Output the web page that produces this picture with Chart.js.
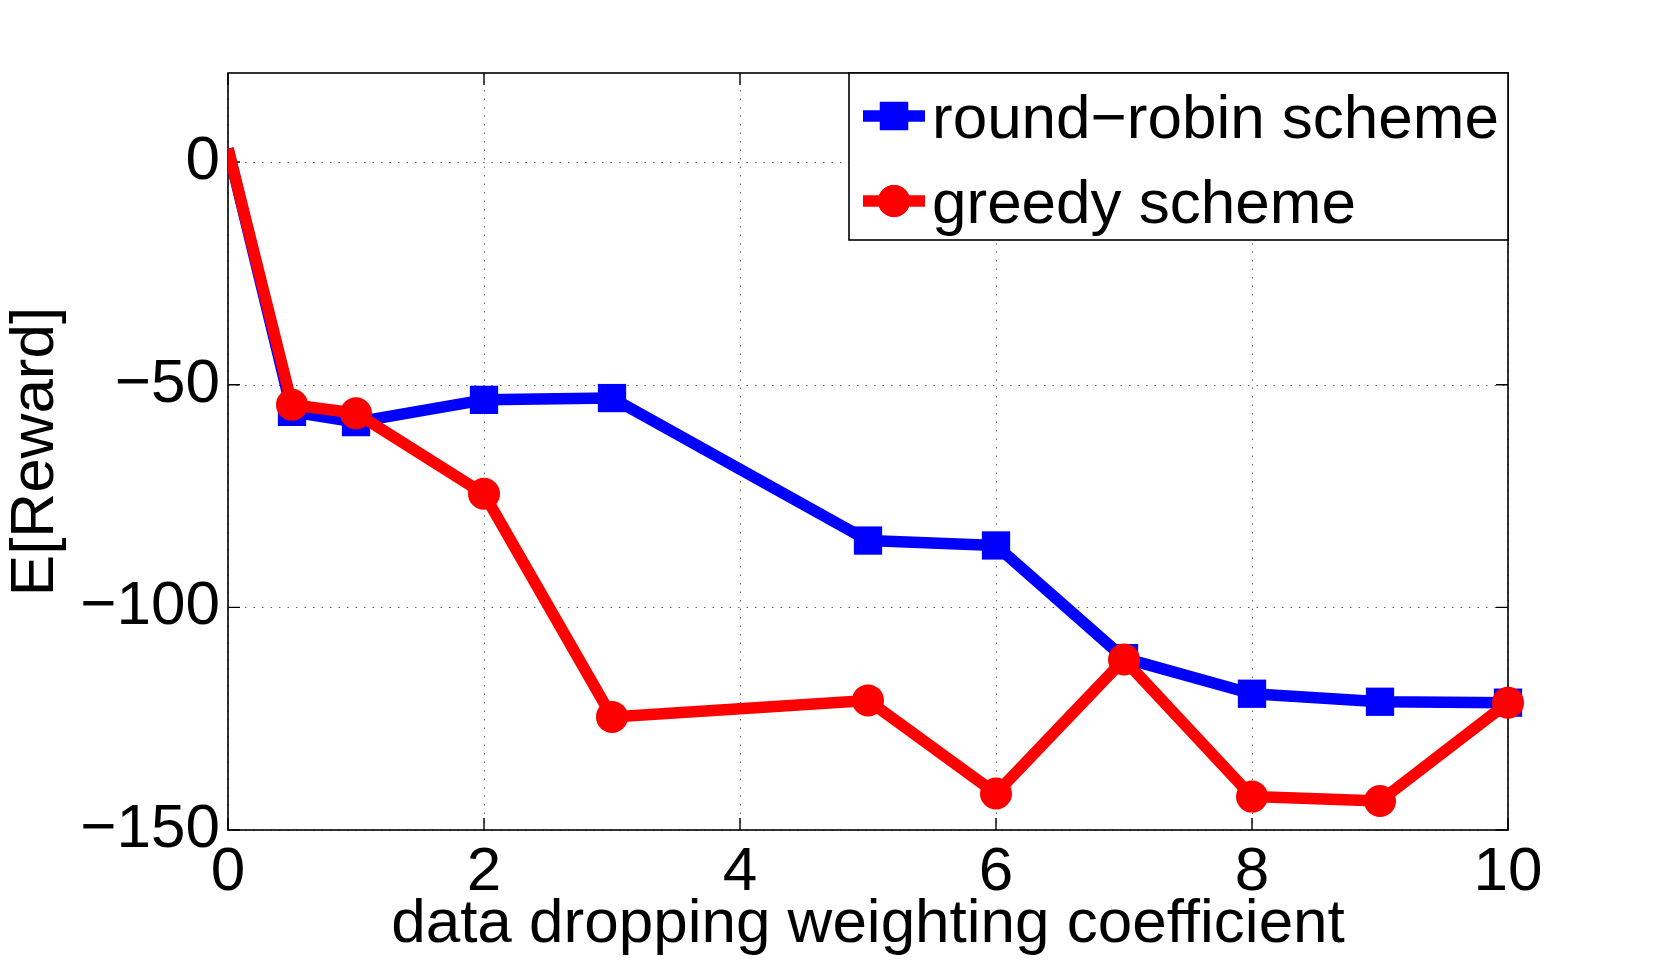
<!DOCTYPE html>
<html>
<head>
<meta charset="utf-8">
<script src="https://cdn.jsdelivr.net/npm/chart.js@4.4.1/dist/chart.umd.min.js"></script>
<style>
  html, body { margin: 0; padding: 0; background: #fff; }
  #wrap { width: 1667px; height: 965px; }
</style>
</head>
<body>
<div id="wrap"><canvas id="myChart" width="1667" height="965"></canvas></div>
<script>
// values
const xValues = [0, 0.5, 1, 2, 3, 5, 6, 7, 8, 9, 10];
const roundRobin = [3, -56.1, -58.4, -53.4, -53.0, -85.0, -86.1, -111.4, -119.4, -121.2, -121.4];
const greedy = [3, -54.5, -56.4, -74.5, -124.6, -120.9, -141.8, -111.7, -142.5, -143.5, -121.4];
const xTicks = [0, 2, 4, 6, 8, 10];
const yTicks = [-150, -100, -50, 0];
const seriesNames = ['round\u2212robin scheme', 'greedy scheme'];

const FONT = '"Liberation Sans", Arial, Helvetica, sans-serif';
const BLUE = '#0000ff';
const RED = '#ff0000';
const LW = 11.5;

const toPoints = (ys) => xValues.map((x, i) => ({x: x, y: ys[i]}));
// first point (x = 0) has no marker in the original
const radii = (r) => xValues.map((x, i) => i === 0 ? 0 : r);

// matlab style box, inward ticks, dotted grid, boxed legend
const matlabAxes = {
    id: 'matlabAxes',
    beforeDatasetsDraw(chart) {
        const ctx = chart.ctx;
        const a = chart.chartArea;
        const xs = chart.scales.x, ys = chart.scales.y;
        ctx.save();
        // grid
        ctx.strokeStyle = '#666';
        ctx.lineWidth = 1;
        ctx.setLineDash([1.5, 7]);
        xTicks.forEach(v => {
            const px = Math.round(xs.getPixelForValue(v)) + 0.5;
            ctx.beginPath(); ctx.moveTo(px, a.top); ctx.lineTo(px, a.bottom); ctx.stroke();
        });
        yTicks.forEach(v => {
            const py = Math.round(ys.getPixelForValue(v)) + 0.5;
            ctx.beginPath(); ctx.moveTo(a.left, py); ctx.lineTo(a.right, py); ctx.stroke();
        });
        ctx.setLineDash([]);
        // box
        ctx.strokeStyle = '#000';
        ctx.lineWidth = 1.6;
        ctx.strokeRect(a.left, a.top, a.right - a.left, a.bottom - a.top);
        // inward ticks
        const tl = 12;
        ctx.lineWidth = 1.4;
        xTicks.forEach(v => {
            const px = xs.getPixelForValue(v);
            ctx.beginPath();
            ctx.moveTo(px, a.bottom); ctx.lineTo(px, a.bottom - tl);
            ctx.moveTo(px, a.top); ctx.lineTo(px, a.top + tl);
            ctx.stroke();
        });
        yTicks.forEach(v => {
            const py = ys.getPixelForValue(v);
            ctx.beginPath();
            ctx.moveTo(a.left, py); ctx.lineTo(a.left + tl, py);
            ctx.moveTo(a.right, py); ctx.lineTo(a.right - tl, py);
            ctx.stroke();
        });
        ctx.restore();
    },
    afterDraw(chart) {
        const ctx = chart.ctx;
        const a = chart.chartArea;
        const bx = 849, by = a.top, bw = a.right - 849, bh = 167;
        ctx.save();
        ctx.fillStyle = '#fff';
        ctx.fillRect(bx, by, bw, bh);
        ctx.strokeStyle = '#000';
        ctx.lineWidth = 1.6;
        ctx.strokeRect(bx, by, bw, bh);
        const rows = [
            {y: 116, color: BLUE, style: 'rect', r: 20, text: seriesNames[0]},
            {y: 201, color: RED, style: 'circle', r: 16, text: seriesNames[1]}
        ];
        rows.forEach(row => {
            ctx.strokeStyle = row.color;
            ctx.lineWidth = LW;
            ctx.beginPath(); ctx.moveTo(863, row.y); ctx.lineTo(925, row.y); ctx.stroke();
            ctx.fillStyle = row.color;
            Chart.helpers.drawPoint(ctx, {pointStyle: row.style, radius: row.r, borderWidth: 0}, 894, row.y);
            ctx.fill();
            ctx.fillStyle = '#000';
            ctx.font = '62px ' + FONT;
            ctx.textAlign = 'left';
            ctx.textBaseline = 'alphabetic';
            ctx.fillText(row.text, 932, row.y + 22);
        });
        ctx.restore();
    }
};

const fmt = (v) => v < 0 ? '\u2212' + Math.abs(v) : String(v);

var ctx = document.getElementById('myChart').getContext('2d');
new Chart(ctx, {
    type: 'line',
    data: {
        datasets: [
            {
                label: seriesNames[1],
                data: toPoints(greedy),
                borderColor: RED,
                backgroundColor: RED,
                borderWidth: LW,
                pointStyle: 'circle',
                pointRadius: radii(16),
                pointBorderWidth: 0,
                pointBackgroundColor: RED,
                borderJoinStyle: 'round',
                tension: 0,
                order: 0,
                clip: {left: 0, top: 30, right: 30, bottom: 30}
            },
            {
                label: seriesNames[0],
                data: toPoints(roundRobin),
                borderColor: BLUE,
                backgroundColor: BLUE,
                borderWidth: LW,
                pointStyle: 'rect',
                pointRadius: radii(20),
                pointBorderWidth: 0,
                pointBackgroundColor: BLUE,
                borderJoinStyle: 'round',
                tension: 0,
                order: 1,
                clip: {left: 0, top: 30, right: 30, bottom: 30}
            }
        ]
    },
    options: {
        responsive: false,
        animation: false,
        devicePixelRatio: 1,
        layout: { padding: {left: 0, right: 159, top: 73, bottom: 0} },
        plugins: {
            legend: { display: false },
            tooltip: { enabled: false }
        },
        scales: {
            x: {
                type: 'linear',
                min: 0,
                max: 10,
                afterBuildTicks: (s) => { s.ticks = xTicks.map(v => ({value: v})); },
                afterFit: (s) => { s.height = 135; },
                grid: { display: false, drawTicks: false },
                border: { display: false },
                ticks: {
                    padding: 6,
                    color: '#000',
                    maxRotation: 0,
                    autoSkip: false,
                    font: { family: FONT, size: 62, lineHeight: 1.2 },
                    callback: fmt
                },
                title: {
                    display: true,
                    text: 'data dropping weighting coefficient',
                    color: '#000',
                    font: { family: FONT, size: 62, lineHeight: 1.2 },
                    padding: {top: 0, bottom: 3}
                }
            },
            y: {
                type: 'linear',
                min: -150,
                max: 20,
                afterBuildTicks: (s) => { s.ticks = yTicks.map(v => ({value: v})); },
                afterFit: (s) => { s.width = 228; },
                grid: { display: false, drawTicks: false },
                border: { display: false },
                ticks: {
                    padding: 8,
                    color: '#000',
                    autoSkip: false,
                    font: { family: FONT, size: 62, lineHeight: 1.2 },
                    callback: fmt
                },
                title: {
                    display: true,
                    text: 'E[Reward]',
                    color: '#000',
                    font: { family: FONT, size: 62, lineHeight: 1 },
                    padding: {top: 5, bottom: 0}
                }
            }
        }
    },
    plugins: [matlabAxes]
});
</script>
</body>
</html>
